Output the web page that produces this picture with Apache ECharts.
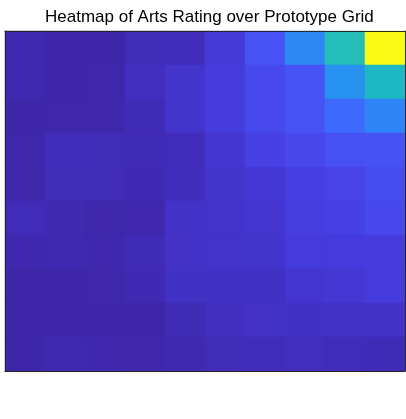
<!DOCTYPE html>
<html>
<head>
<meta charset="utf-8">
<script src="https://cdn.jsdelivr.net/npm/echarts@6/dist/echarts.min.js"></script>
<style>html,body{margin:0;padding:0;background:#fff}#c{width:406px;height:419px}</style>
</head>
<body>
<div id="c"></div>
<script>
// Columns (prototype index) and rows (grid index, top to bottom)
var cols = ['1','2','3','4','5','6','7','8','9','10'];
var rows = ['1','2','3','4','5','6','7','8','9','10'];
// Arts rating per row (top to bottom), per column (left to right)
var row1  = [1.2, 0.0, 0.0, 2.4, 2.8, 6.9, 14.5, 29, 50, 100];
var row2  = [1.2, 0.0, 0.5, 3.5, 5.2, 8.0, 11.8, 14.5, 32, 47];
var row3  = [0.0, 0.5, 0.6, 2.2, 5.2, 8.0, 11.8, 14.5, 20, 28];
var row4  = [0.5, 2.6, 2.4, 2.1, 2.7, 5.7, 9.3, 11.2, 13.7, 14.3];
var row5  = [0.3, 2.4, 2.4, 1.6, 3.0, 5.2, 6.6, 8.7, 10.3, 12.8];
var row6  = [2.6, 1.5, 0.2, 0.9, 4.6, 4.9, 5.7, 8.5, 9.8, 11.5];
var row7  = [1.0, 1.2, 0.9, 2.1, 4.6, 4.9, 5.2, 7.4, 7.4, 7.8];
var row8  = [0.0, 0.0, 0.5, 1.8, 4.2, 4.4, 4.1, 5.7, 6.3, 7.6];
var row9  = [0.0, 0.0, 0.0, 0.0, 2.0, 3.8, 4.6, 4.4, 4.6, 4.6];
var row10 = [0.0, 1.2, 0.8, 0.3, 1.2, 2.4, 2.7, 3.3, 2.7, 2.1];
var matrix = [row1,row2,row3,row4,row5,row6,row7,row8,row9,row10];

// parula colormap stops (t, color)
var stops = [
  [0.0,'#3e26a8'],[0.03,'#412dbc'],[0.067,'#4538d7'],[0.1,'#4742e6'],
  [0.143,'#4752f4'],[0.2,'#3d69fc'],[0.286,'#2e87f7'],[0.429,'#12b1d6'],
  [0.571,'#37c897'],[0.714,'#abc739'],[0.857,'#fec338'],[1.0,'#f9fb15']
];
function hex(c){return [parseInt(c.substr(1,2),16),parseInt(c.substr(3,2),16),parseInt(c.substr(5,2),16)];}
function cmap(t){
  for(var i=1;i<stops.length;i++){
    if(t<=stops[i][0]){
      var a=stops[i-1],b=stops[i],f=(t-a[0])/(b[0]-a[0]);
      var ca=hex(a[1]),cb=hex(b[1]);
      return 'rgb('+ca.map(function(v,k){return Math.round(v+(cb[k]-v)*f);}).join(',')+')';
    }
  }
  return stops[stops.length-1][1];
}
var palette=[];
for(var i=0;i<=400;i++) palette.push(cmap(i/400));

var data=[];
for(var r=0;r<rows.length;r++) for(var c=0;c<cols.length;c++) data.push([c,r,matrix[r][c]]);

var chart = echarts.init(document.getElementById('c'));
var axisLine = {show:true,onZero:false,lineStyle:{color:'#262626',width:1}};
chart.setOption({
  animation:false,
  title:{text:'Heatmap of Arts Rating over Prototype Grid',left:45,top:9,padding:0,
    textStyle:{fontFamily:'Liberation Sans, Arial, sans-serif',fontSize:17,fontWeight:'normal',color:'#000'}},
  grid:{left:5,right:1,top:31,bottom:48},
  xAxis:[
    {type:'category',data:cols,position:'bottom',z:10,axisLine:axisLine,axisTick:{show:false},axisLabel:{show:false},splitLine:{show:false}},
    {type:'category',data:cols,position:'top',z:10,axisLine:axisLine,axisTick:{show:false},axisLabel:{show:false},splitLine:{show:false}}
  ],
  yAxis:[
    {type:'category',data:rows,inverse:true,position:'left',z:10,axisLine:axisLine,axisTick:{show:false},axisLabel:{show:false},splitLine:{show:false}},
    {type:'category',data:rows,inverse:true,position:'right',z:10,axisLine:axisLine,axisTick:{show:false},axisLabel:{show:false},splitLine:{show:false}}
  ],
  visualMap:{show:false,min:0,max:100,dimension:2,inRange:{color:palette}},
  series:[{type:'heatmap',data:data,xAxisIndex:0,yAxisIndex:0,itemStyle:{borderWidth:0},emphasis:{disabled:true}}]
});
</script>
</body>
</html>
